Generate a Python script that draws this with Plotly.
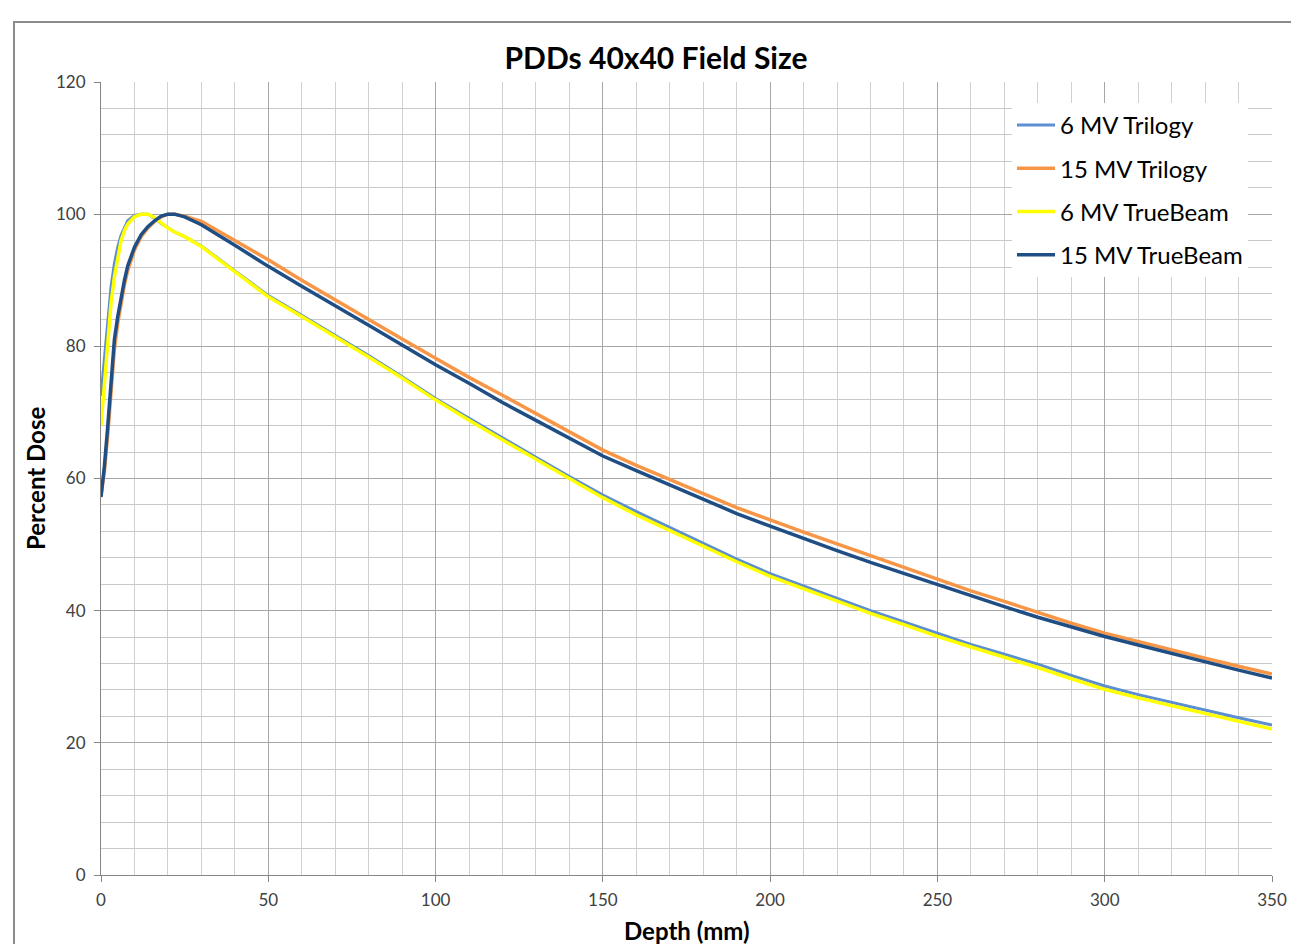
import plotly.graph_objects as go

depth = [0, 1, 2, 3, 4, 5, 6, 7, 8, 10, 12, 14, 16, 18, 20, 22, 25, 30,
         40, 50, 60, 70, 80, 90, 100, 110, 120, 130, 140, 150, 160, 170, 180, 190,
         200, 210, 220, 230, 240, 250, 260, 270, 280, 290, 300, 310, 320, 330, 340, 350]

mv6_trilogy = [72.5, 78.0, 84.0, 89.0, 92.5, 95.0, 96.8, 98.0, 99.0, 99.8, 100.0, 100.0, 99.4, 98.6, 97.9, 97.3, 96.6, 95.2,
               91.4, 87.7, 84.7, 81.7, 78.6, 75.4, 72.1, 69.1, 66.1, 63.2, 60.3, 57.5, 55.0, 52.6, 50.1, 47.8,
               45.6, 43.7, 41.8, 40.0, 38.3, 36.6, 34.9, 33.4, 31.9, 30.2, 28.6, 27.3, 26.1, 24.9, 23.8, 22.7]

mv15_trilogy = [57.5, 61.0, 66.5, 73.5, 79.5, 83.5, 86.8, 89.3, 91.5, 94.6, 96.6, 97.9, 98.9, 99.6, 100.0, 100.0, 99.7, 98.9,
                96.0, 93.1, 90.0, 87.0, 84.0, 81.1, 78.2, 75.3, 72.6, 69.8, 67.0, 64.3, 62.0, 59.8, 57.7, 55.6,
                53.7, 51.9, 50.1, 48.3, 46.5, 44.7, 43.0, 41.4, 39.7, 38.1, 36.6, 35.3, 34.1, 32.8, 31.6, 30.4]

mv6_truebeam = [68.0, 74.0, 80.5, 86.5, 90.5, 93.5, 96.0, 97.5, 98.5, 99.6, 100.0, 100.0, 99.5, 98.7, 97.9, 97.3, 96.6, 95.1,
                91.3, 87.5, 84.5, 81.5, 78.4, 75.2, 71.9, 68.8, 65.8, 62.9, 60.0, 57.1, 54.5, 52.1, 49.7, 47.4,
                45.2, 43.3, 41.4, 39.6, 37.9, 36.1, 34.5, 33.0, 31.4, 29.7, 28.1, 26.8, 25.6, 24.4, 23.3, 22.1]

mv15_truebeam = [57.2, 61.8, 67.8, 75.4, 81.0, 84.5, 87.5, 90.0, 92.2, 95.0, 96.9, 98.1, 99.0, 99.7, 100.0, 100.0, 99.6, 98.4,
                 95.3, 92.1, 89.1, 86.2, 83.2, 80.2, 77.2, 74.4, 71.5, 68.8, 66.1, 63.4, 61.2, 59.0, 56.8, 54.7,
                 52.8, 50.9, 49.1, 47.3, 45.6, 43.9, 42.2, 40.6, 39.0, 37.5, 36.1, 34.8, 33.5, 32.2, 31.0, 29.8]

series_names = ["6 MV Trilogy", "15 MV Trilogy", "6 MV TrueBeam", "15 MV TrueBeam"]
series_values = [mv6_trilogy, mv15_trilogy, mv6_truebeam, mv15_truebeam]
series_colors = ["#5B8FD0", "#F79646", "#FFFF00", "#1F4E85"]
series_widths = [3, 3.5, 3.5, 3.5]

x_ticks = [0, 50, 100, 150, 200, 250, 300, 350]
y_ticks = [0, 20, 40, 60, 80, 100, 120]

FONT = "Lato, Carlito, Calibri, sans-serif"

fig = go.Figure()
for name, vals, col, w in zip(series_names, series_values, series_colors, series_widths):
    fig.add_trace(go.Scatter(x=depth, y=vals, mode="lines", name=name, legendgroup=name,
                             line=dict(color=col, width=w)))

W, H = 1291, 944
L, R, T, B = 101, 19, 82, 69
pw = W - L - R
ph = H - T - B

fig.update_layout(
    width=W, height=H,
    margin=dict(l=L, r=R, t=T, b=B, autoexpand=False),
    paper_bgcolor="white", plot_bgcolor="white",
    font=dict(family=FONT, color="#404040"),
    title=dict(text="<b>PDDs 40x40 Field Size</b>", x=656 / W, xanchor="center",
               y=1 - 58 / H, yanchor="middle", font=dict(size=30, color="#000000", family=FONT)),
    showlegend=True,
    legend=dict(x=(1012 - L) / pw, y=(H - B - 103) / ph, xanchor="left", yanchor="top",
                bgcolor="white", borderwidth=0, font=dict(size=24, color="#000000", family=FONT),
                tracegroupgap=9, traceorder="grouped", itemwidth=38),
    xaxis=dict(range=[0, 350], tickvals=x_ticks, ticktext=[str(v) for v in x_ticks],
               showgrid=True, gridcolor="#A6A6A6", gridwidth=1,
               showline=True, linecolor="#868686", linewidth=1,
               ticks="outside", ticklen=6, tickcolor="#868686", ticklabelstandoff=4,
               tickfont=dict(size=17, color="#404040"),
               minor=dict(dtick=10, tick0=0, showgrid=True, gridcolor="#D0D0D0", gridwidth=1, ticks=""),
               zeroline=False),
    yaxis=dict(range=[0, 120], tickvals=y_ticks, ticktext=[str(v) for v in y_ticks],
               showgrid=True, gridcolor="#A6A6A6", gridwidth=1,
               showline=True, linecolor="#868686", linewidth=1,
               ticks="outside", ticklen=6, tickcolor="#868686", ticklabelstandoff=5,
               tickfont=dict(size=17, color="#404040"),
               minor=dict(dtick=4, tick0=0, showgrid=True, gridcolor="#C8C8C8", gridwidth=1, ticks=""),
               zeroline=False),
    annotations=[
        dict(text="<b>Depth (mm)</b>", xref="paper", yref="paper", x=0.5, y=(H - B - 930) / ph,
             xanchor="center", yanchor="middle", showarrow=False,
             font=dict(size=24, color="#000000", family=FONT)),
        dict(text="<b>Percent Dose</b>", xref="paper", yref="paper", x=(35 - L) / pw, y=(H - B - 479) / ph,
             xanchor="center", yanchor="middle", showarrow=False, textangle=-90,
             font=dict(size=24, color="#000000", family=FONT)),
    ],
    shapes=[
        dict(type="rect", xref="paper", yref="paper", x0=(14 - L) / pw, x1=(1400 - L) / pw,
             y0=(H - B - 1100) / ph, y1=(H - B - 22) / ph, line=dict(color="#8C8C8C", width=2),
             fillcolor="rgba(0,0,0,0)", layer="below"),
    ],
)

fig.write_html("out.html", config={"displayModeBar": False},
               post_script="document.body.style.margin='0';document.body.style.overflow='hidden';")
